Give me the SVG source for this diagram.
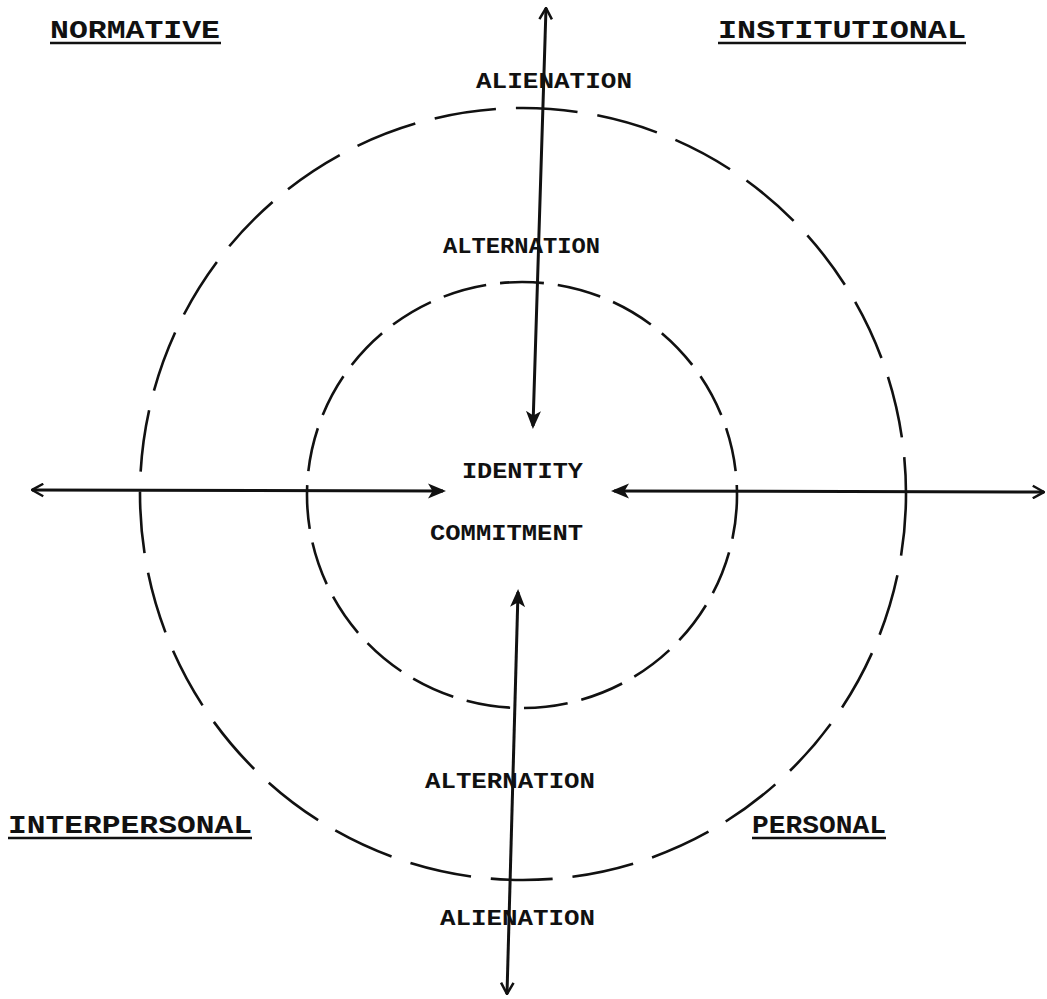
<svg xmlns="http://www.w3.org/2000/svg" width="1047" height="999" viewBox="0 0 1047 999">
<style>
text{font-family:"Liberation Mono","DejaVu Sans Mono",monospace;fill:#111;font-weight:bold}
.lbl{font-size:25px}
.in{font-size:22px}
.ul{stroke:#111;stroke-width:2.5}
.ring{fill:none;stroke:#111;stroke-width:2.6}
.ax{fill:none;stroke:#111;stroke-width:3}
</style>
<defs>
<marker id="filled" viewBox="0 0 12 12" refX="10" refY="6" markerWidth="6" markerHeight="6" orient="auto-start-reverse" markerUnits="strokeWidth">
<path d="M0,1 L12,6 L0,11 L3,6 Z" fill="#111"/>
</marker>
<marker id="open" viewBox="0 0 12 12" refX="11" refY="6" markerWidth="5" markerHeight="5" orient="auto-start-reverse" markerUnits="strokeWidth">
<path d="M2,1 L11,6 L2,11" fill="none" stroke="#111" stroke-width="2"/>
</marker>
</defs>
<rect width="1047" height="999" fill="#fff"/>
<g id="rings">
<ellipse class="ring" cx="523" cy="494" rx="383" ry="386" stroke-dasharray="62 20"/>
<ellipse class="ring" cx="522" cy="495" rx="215" ry="213" stroke-dasharray="44 14"/>
</g>
<g id="connectors">
<line class="ax" x1="546" y1="8" x2="533" y2="426" marker-start="url(#open)" marker-end="url(#filled)"/>
<line class="ax" x1="32" y1="490" x2="443" y2="491" marker-start="url(#open)" marker-end="url(#filled)"/>
<line class="ax" x1="1044" y1="492" x2="614" y2="491" marker-start="url(#open)" marker-end="url(#filled)"/>
<line class="ax" x1="507" y1="994" x2="518" y2="592" marker-start="url(#open)" marker-end="url(#filled)"/>
</g>
<g id="normative"><text class="lbl" x="50" y="38" textLength="170" lengthAdjust="spacingAndGlyphs">NORMATIVE</text><line class="ul" x1="50" y1="43" x2="221" y2="43"/></g>
<g id="institutional"><text class="lbl" x="718" y="38" textLength="248" lengthAdjust="spacingAndGlyphs">INSTITUTIONAL</text><line class="ul" x1="718" y1="43" x2="966" y2="43"/></g>
<g id="interpersonal"><text class="lbl" x="8" y="833" textLength="244" lengthAdjust="spacingAndGlyphs">INTERPERSONAL</text><line class="ul" x1="8" y1="838" x2="252" y2="838"/></g>
<g id="personal"><text class="lbl" x="752" y="833" textLength="134" lengthAdjust="spacingAndGlyphs">PERSONAL</text><line class="ul" x1="752" y1="838" x2="886" y2="838"/></g>
<g id="alienation-top"><text class="in" x="476" y="88" textLength="156" lengthAdjust="spacingAndGlyphs">ALIENATION</text></g>
<g id="alternation-top"><text class="in" x="443" y="253" textLength="157" lengthAdjust="spacingAndGlyphs">ALTERNATION</text></g>
<g id="identity"><text class="in" x="462" y="478" textLength="121" lengthAdjust="spacingAndGlyphs">IDENTITY</text></g>
<g id="commitment"><text class="in" x="430" y="540" textLength="153" lengthAdjust="spacingAndGlyphs">COMMITMENT</text></g>
<g id="alternation-bottom"><text class="in" x="425" y="788" textLength="170" lengthAdjust="spacingAndGlyphs">ALTERNATION</text></g>
<g id="alienation-bottom"><text class="in" x="440" y="925" textLength="155" lengthAdjust="spacingAndGlyphs">ALIENATION</text></g>
</svg>
